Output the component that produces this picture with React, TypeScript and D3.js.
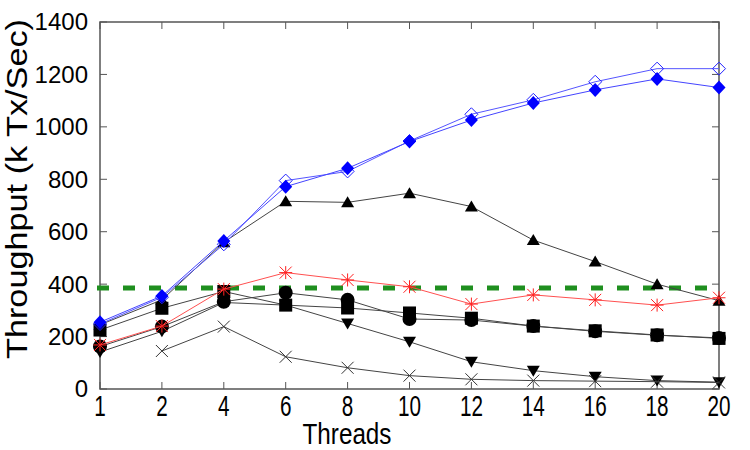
import * as d3 from "d3";

// thread counts on the x axis (categorical, evenly spaced)
const threads = ["1", "2", "4", "6", "8", "10", "12", "14", "16", "18", "20"];
const yTicks = [0, 200, 400, 600, 800, 1000, 1200, 1400];

// throughput values (k Tx/Sec) per series
const diamondFilled = [255, 355, 565, 772, 842, 944, 1026, 1091, 1141, 1183, 1150];
const diamondOpen = [248, 350, 552, 795, 830, 946, 1048, 1103, 1172, 1222, 1222];
const triangleUp = [245, 340, 560, 716, 712, 747, 696, 568, 486, 400, 337];
const asterisk = [168, 240, 381, 444, 416, 390, 324, 359, 340, 320, 348];
const square = [225, 308, 372, 320, 309, 290, 270, 240, 222, 206, 193];
const circle = [162, 238, 333, 367, 340, 267, 263, 240, 220, 205, 195];
const triangleDown = [141, 220, 330, 320, 250, 180, 104, 70, 47, 32, 26];
const cross = [null, 145, 238, 123, 81, 51, 37, 32, 30, 28, 25];
const threshold = 385;

type Shape = "diamond" | "diamondOpen" | "triUp" | "triDown" | "square" | "circle" | "cross" | "star";

const series: { values: (number | null)[]; shape: Shape; color: string; line: string }[] = [
  { values: triangleDown, shape: "triDown", color: "#000", line: "#444" },
  { values: cross, shape: "cross", color: "#333", line: "#444" },
  { values: circle, shape: "circle", color: "#000", line: "#444" },
  { values: square, shape: "square", color: "#000", line: "#444" },
  { values: triangleUp, shape: "triUp", color: "#000", line: "#444" },
  { values: asterisk, shape: "star", color: "#ff2020", line: "#ff5050" },
  { values: diamondOpen, shape: "diamondOpen", color: "#2020ff", line: "#5555ff" },
  { values: diamondFilled, shape: "diamond", color: "#0000ff", line: "#4444ff" },
];

function Marker({ shape, x, y, color }: { shape: Shape; x: number; y: number; color: string }) {
  const s = 6.5;
  switch (shape) {
    case "diamond":
      return <path d={`M${x},${y - s - 0.5}L${x + s},${y}L${x},${y + s + 0.5}L${x - s},${y}Z`} fill={color} />;
    case "diamondOpen":
      return (
        <path
          d={`M${x},${y - s}L${x + s},${y}L${x},${y + s}L${x - s},${y}Z`}
          fill="none"
          stroke={color}
          strokeWidth={1}
        />
      );
    case "triUp":
      return <path d={`M${x},${y - 6}L${x + 6.5},${y + 5}L${x - 6.5},${y + 5}Z`} fill={color} />;
    case "triDown":
      return <path d={`M${x},${y + 6}L${x + 6.5},${y - 5}L${x - 6.5},${y - 5}Z`} fill={color} />;
    case "square":
      return <rect x={x - 6.5} y={y - 6.5} width={13} height={13} fill={color} />;
    case "circle":
      return <circle cx={x} cy={y} r={7} fill={color} />;
    case "cross":
      return (
        <path
          d={`M${x - 6},${y - 6}L${x + 6},${y + 6}M${x - 6},${y + 6}L${x + 6},${y - 6}`}
          stroke={color}
          strokeWidth={1}
        />
      );
    case "star":
      return (
        <path
          d={`M${x - 6.5},${y}L${x + 6.5},${y}M${x},${y - 6.5}L${x},${y + 6.5}M${x - 6},${y - 6}L${x + 6},${y + 6}M${x - 6},${y + 6}L${x + 6},${y - 6}`}
          stroke={color}
          strokeWidth={1}
        />
      );
  }
}

export default function App() {
  const left = 100;
  const right = 719;
  const top = 22;
  const bottom = 389;
  const font = "'Liberation Sans', Arial, sans-serif";

  const x = d3.scalePoint<string>().domain(threads).range([left, right]);
  const y = d3.scaleLinear().domain([0, 1400]).range([bottom, top]);

  const line = d3
    .line<number | null>()
    .defined((d) => d != null)
    .x((_, i) => x(threads[i])!)
    .y((d) => y(d as number));

  return (
    <svg
      width={750}
      height={450}
      style={{ position: "absolute", left: 0, top: 0, background: "#fff" }}
    >
      {/* frame with inward ticks on all four sides */}
      <rect x={left} y={top} width={right - left} height={bottom - top} fill="none" stroke="#555" strokeWidth={1.5} />
      <g stroke="#555" strokeWidth={1}>
        {yTicks.map((t) => (
          <g key={t}>
            <line x1={left} x2={left + 7} y1={y(t)} y2={y(t)} />
            <line x1={right - 7} x2={right} y1={y(t)} y2={y(t)} />
          </g>
        ))}
        {threads.map((t) => (
          <g key={t}>
            <line x1={x(t)} x2={x(t)} y1={bottom} y2={bottom - 7} />
            <line x1={x(t)} x2={x(t)} y1={top} y2={top + 7} />
          </g>
        ))}
      </g>

      {/* tick labels */}
      <g fontFamily={font} fontSize={24} fill="#000" textAnchor="end">
        {yTicks.map((t) => (
          <text key={t} x={88} y={y(t)} dy="0.35em">
            {t}
          </text>
        ))}
      </g>
      <g fontFamily={font} fontSize={29} fill="#000" textAnchor="middle">
        {threads.map((t) => (
          <text key={t} x={x(t)} y={416} textLength={t.length * 11.5} lengthAdjust="spacingAndGlyphs">
            {t}
          </text>
        ))}
      </g>

      {/* axis titles */}
      <text
        x={347}
        y={444}
        fontFamily={font}
        fontSize={30}
        textAnchor="middle"
        textLength={89}
        lengthAdjust="spacingAndGlyphs"
      >
        Threads
      </text>
      <text
        transform="translate(27,189) rotate(-90)"
        fontFamily={font}
        fontSize={30}
        textAnchor="middle"
        textLength={340}
        lengthAdjust="spacingAndGlyphs"
      >
        Throughput (k Tx/Sec)
      </text>

      {/* horizontal reference line */}
      <line
        x1={x(threads[0])! - 3}
        x2={x(threads[threads.length - 1])!}
        y1={y(threshold)}
        y2={y(threshold)}
        stroke="#1f8f1f"
        strokeWidth={5}
        strokeDasharray="12,14"
      />

      {series.map((s, si) => (
        <g key={si}>
          <path d={line(s.values) ?? ""} fill="none" stroke={s.line} strokeWidth={1} />
          {s.values.map((v, i) =>
            v == null ? null : (
              <Marker key={i} shape={s.shape} x={x(threads[i])!} y={y(v)} color={s.color} />
            )
          )}
        </g>
      ))}
    </svg>
  );
}
